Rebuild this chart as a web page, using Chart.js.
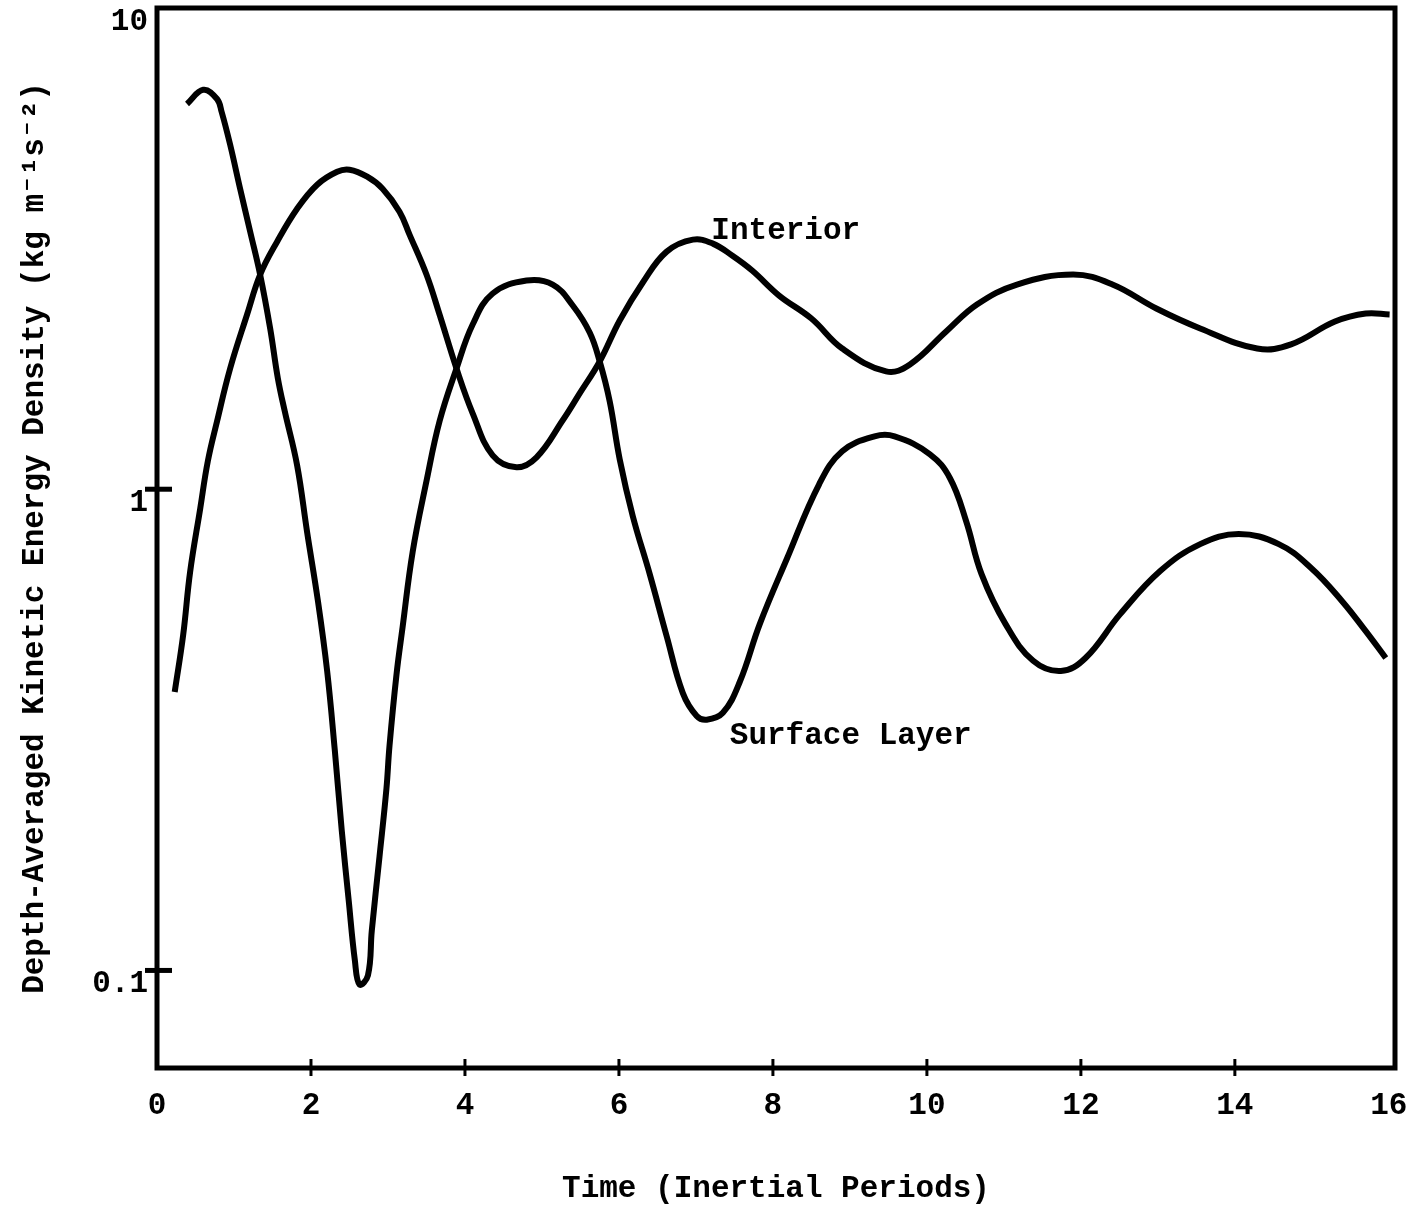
<!DOCTYPE html>
<html>
<head>
<meta charset="utf-8">
<script src="https://cdn.jsdelivr.net/npm/chart.js@4"></script>
<style>
  html, body { margin: 0; padding: 0; background: #fff; }
  #wrap { width: 1406px; height: 1205px; }
</style>
</head>
<body>
<div id="wrap"><canvas id="energyChart" width="1406" height="1205"></canvas></div>
<script>
// time in inertial periods, energy in kg m^-1 s^-2
const interiorTime = [0.23, 0.34, 0.43, 0.56, 0.66, 0.78, 0.95, 1.17, 1.34, 1.56, 1.82, 2.08, 2.34, 2.50, 2.73, 2.93,
  3.15, 3.28, 3.50, 3.67, 3.89, 4.10, 4.36, 4.67, 4.93, 5.27, 5.49, 5.75, 6.01, 6.31, 6.62, 6.96, 7.22, 7.47, 7.73,
  8.08, 8.50, 8.90, 9.47, 9.78, 10.25, 10.65, 11.17, 11.90, 12.41, 12.98, 13.55, 14.29, 14.73, 15.30, 15.70, 16.01];
const interiorEnergy = [0.379, 0.498, 0.673, 0.909, 1.143, 1.384, 1.782, 2.307, 2.793, 3.269, 3.828, 4.294, 4.568, 4.612,
  4.461, 4.212, 3.774, 3.381, 2.793, 2.307, 1.782, 1.438, 1.176, 1.111, 1.165, 1.391, 1.582, 1.843, 2.242, 2.689, 3.117,
  3.301, 3.239, 3.059, 2.847, 2.526, 2.263, 1.961, 1.757, 1.817, 2.127, 2.420, 2.663, 2.793, 2.663, 2.374, 2.158, 1.961,
  2.000, 2.231, 2.318, 2.307];

const surfaceTime = [0.39, 0.60, 0.78, 0.84, 0.95, 1.08, 1.21, 1.34, 1.47, 1.57, 1.66, 1.82, 1.95, 2.09, 2.21, 2.31,
  2.40, 2.49, 2.57, 2.63, 2.74, 2.79, 2.89, 2.98, 3.02, 3.11, 3.19, 3.32, 3.50, 3.67, 3.89, 4.10, 4.36, 4.80, 5.14,
  5.40, 5.62, 5.75, 5.88, 6.01, 6.18, 6.40, 6.62, 6.83, 7.01, 7.14, 7.35, 7.57, 7.83, 8.18, 8.60, 8.90, 9.32, 9.58,
  10.04, 10.30, 10.51, 10.71, 11.02, 11.38, 11.74, 12.06, 12.51, 13.03, 13.55, 14.05, 14.57, 14.99, 15.39, 15.70, 15.96];
const surfaceEnergy = [6.32, 6.76, 6.47, 6.08, 5.20, 4.21, 3.43, 2.79, 2.158, 1.699, 1.451, 1.121, 0.814, 0.586, 0.419,
  0.286, 0.1952, 0.1397, 0.1049, 0.0935, 0.0977, 0.121, 0.1724, 0.2385, 0.293, 0.411, 0.517, 0.740, 1.039, 1.384, 1.782,
  2.199, 2.551, 2.714, 2.663, 2.409, 2.117, 1.843, 1.522, 1.154, 0.879, 0.666, 0.495, 0.377, 0.338, 0.332, 0.343, 0.398,
  0.525, 0.716, 1.024, 1.199, 1.288, 1.288, 1.182, 1.054, 0.858, 0.666, 0.525, 0.440, 0.419, 0.446, 0.550, 0.676, 0.769,
  0.807, 0.769, 0.686, 0.586, 0.507, 0.446];

const xTicks = [0, 2, 4, 6, 8, 10, 12, 14, 16];
const yTicks = [0.1, 1, 10];
const yMarks = [0.1, 1];
const xMarks = [2, 4, 6, 8, 10, 12, 14];

const curveLabels = ["Interior", "Surface Layer"];
const labelTime = [7.20, 7.44];
const labelEnergy = [3.43, 0.307];

const monoFont = "'Liberation Mono', 'Courier New', monospace";

const toPoints = (xs, ys) => xs.map((x, i) => ({ x: x, y: ys[i] }));

const framePlugin = {
  id: "frame",
  afterDatasetsDraw(chart) {
    const { ctx, chartArea, scales } = chart;
    const xs = scales.x;
    const ys = scales.y;
    ctx.save();
    ctx.strokeStyle = "#000";
    ctx.lineWidth = 5;
    ctx.strokeRect(chartArea.left, chartArea.top, chartArea.right - chartArea.left, chartArea.bottom - chartArea.top);

    // tick marks crossing the axes
    ctx.lineWidth = 5;
    yMarks.forEach(v => {
      const y = ys.getPixelForValue(v);
      ctx.beginPath();
      ctx.moveTo(chartArea.left - 12, y);
      ctx.lineTo(chartArea.left + 15, y);
      ctx.stroke();
    });
    ctx.lineWidth = 3;
    xMarks.forEach(v => {
      const x = xs.getPixelForValue(v);
      ctx.beginPath();
      ctx.moveTo(x, chartArea.bottom - 9);
      ctx.lineTo(x, chartArea.bottom + 8);
      ctx.stroke();
    });

    // curve labels
    ctx.fillStyle = "#000";
    ctx.font = "bold 31px " + monoFont;
    ctx.textBaseline = "middle";
    ctx.textAlign = "left";
    curveLabels.forEach((text, i) => {
      ctx.fillText(text, xs.getPixelForValue(labelTime[i]), ys.getPixelForValue(labelEnergy[i]));
    });
    ctx.restore();
  }
};

new Chart(document.getElementById("energyChart"), {
  type: "line",
  data: {
    datasets: [
      {
        label: "Interior",
        data: toPoints(interiorTime, interiorEnergy),
        borderColor: "#000",
        borderWidth: 6,
        pointRadius: 0,
        tension: 0.4,
        fill: false
      },
      {
        label: "Surface Layer",
        data: toPoints(surfaceTime, surfaceEnergy),
        borderColor: "#000",
        borderWidth: 6,
        pointRadius: 0,
        tension: 0.4,
        fill: false
      }
    ]
  },
  options: {
    responsive: false,
    animation: false,
    layout: { padding: { top: 8, right: 11, left: 0, bottom: 0 } },
    plugins: {
      legend: { display: false },
      tooltip: { enabled: false }
    },
    scales: {
      x: {
        type: "linear",
        min: 0,
        max: 16.08,
        afterBuildTicks: scale => { scale.ticks = xTicks.map(v => ({ value: v })); },
        afterFit: scale => {
          scale.height = 137;
          scale.paddingLeft = 0;
          scale.paddingRight = 0;
        },
        grid: { display: false, drawTicks: false },
        border: { display: false },
        ticks: {
          color: "#000",
          padding: 20,
          maxRotation: 0,
          font: { family: monoFont, size: 31, weight: "bold" },
          callback: v => String(v)
        },
        title: {
          display: true,
          text: "Time (Inertial Periods)",
          color: "#000",
          padding: 0,
          font: { family: monoFont, size: 31, weight: "bold", lineHeight: 1 }
        }
      },
      y: {
        type: "logarithmic",
        min: 0.0627,
        max: 10,
        afterBuildTicks: scale => { scale.ticks = yTicks.map(v => ({ value: v })); },
        afterFit: scale => {
          scale.width = 157;
          scale.paddingTop = 0;
          scale.paddingBottom = 0;
        },
        grid: { display: false, drawTicks: false },
        border: { display: false },
        ticks: {
          color: "#000",
          padding: 9,
          labelOffset: 14,
          font: { family: monoFont, size: 31, weight: "bold" },
          callback: v => String(v)
        },
        title: {
          display: true,
          text: "Depth-Averaged Kinetic Energy Density (kg m\u207B\u00B9s\u207B\u00B2)",
          color: "#000",
          padding: { top: 20, bottom: 0 },
          font: { family: monoFont, size: 31, weight: "bold", lineHeight: 1 }
        }
      }
    }
  },
  plugins: [framePlugin]
});
</script>
</body>
</html>
